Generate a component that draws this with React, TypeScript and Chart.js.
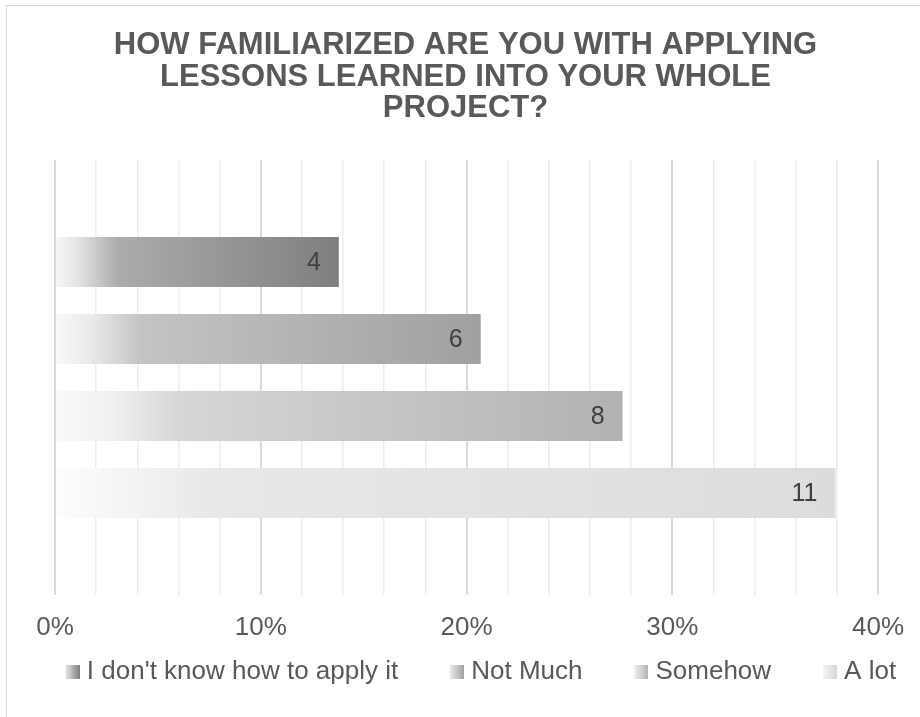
import React, { useEffect, useRef } from 'react';
import { Chart, registerables } from 'chart.js';

Chart.register(...registerables);

// ---- data ----
const TITLE_LINES = [
  'HOW FAMILIARIZED ARE YOU WITH APPLYING',
  'LESSONS LEARNED INTO YOUR WHOLE',
  'PROJECT?',
];
const CATEGORIES = [''];
const SERIES_NAMES = ["I don't know how to apply it", 'Not Much', 'Somehow', 'A lot'];
const SERIES_COUNTS = [4, 6, 8, 11];
const X_MIN = 0;
const X_MAX = 40;
const X_STEP = 2;
const X_LABEL_EVERY = 10;

// ---- styles ----
const FONT = "'Liberation Sans', Arial, Helvetica, sans-serif";
const TEXT_COLOR = '#595959';
const LABEL_COLOR = '#404040';
const SERIES_GRADIENTS: [number, string][][] = [
  [[0, '#f8f8f8'], [0.08, '#e4e4e4'], [0.22, '#acacac'], [1, '#7f7f7f']],
  [[0, '#f8f8f8'], [0.08, '#ebebeb'], [0.2, '#c4c4c4'], [1, '#a0a0a0']],
  [[0, '#fafafa'], [0.1, '#f0f0f0'], [0.22, '#d6d6d6'], [1, '#b2b2b2']],
  [[0, '#fdfdfd'], [0.1, '#f3f3f3'], [0.2, '#e8e8e8'], [1, '#dcdcdc']],
];
const LEGEND_SWATCH: [string, string][] = [
  ['#e2e2e2', '#7f7f7f'],
  ['#e8e8e8', '#a0a0a0'],
  ['#ededed', '#b2b2b2'],
  ['#f4f4f4', '#d6d6d6'],
];

const TOTAL = SERIES_COUNTS.reduce((a, b) => a + b, 0);
const SERIES_PCT = SERIES_COUNTS.map((c) => (c / TOTAL) * 100);

const LEGEND_BOX_W = 39;
const SWATCH = 14;

function makeSwatch(i: number): HTMLCanvasElement {
  const c = document.createElement('canvas');
  const w = LEGEND_BOX_W + 12;
  c.width = w;
  c.height = SWATCH;
  const g = c.getContext('2d')!;
  const grad = g.createLinearGradient(w - SWATCH, 0, w, 0);
  grad.addColorStop(0, LEGEND_SWATCH[i][0]);
  grad.addColorStop(1, LEGEND_SWATCH[i][1]);
  g.fillStyle = grad;
  g.fillRect(w - SWATCH, 0, SWATCH, SWATCH);
  return c;
}

const valueLabels = {
  id: 'valueLabels',
  afterDatasetsDraw(chart: any) {
    const ctx = chart.ctx;
    ctx.save();
    ctx.font = `25px ${FONT}`;
    ctx.fillStyle = LABEL_COLOR;
    ctx.textAlign = 'right';
    ctx.textBaseline = 'middle';
    chart.data.datasets.forEach((_ds: any, i: number) => {
      const meta = chart.getDatasetMeta(i);
      meta.data.forEach((el: any) => {
        ctx.fillText(String(SERIES_COUNTS[i]), el.x - 18, el.y + 1);
      });
    });
    ctx.restore();
  },
};

export default function App() {
  const ref = useRef<HTMLCanvasElement | null>(null);

  useEffect(() => {
    if (!ref.current) return;
    const swatches = SERIES_NAMES.map((_, i) => makeSwatch(i));

    const datasets = SERIES_NAMES.map((name, i) => ({
      label: name,
      data: [SERIES_PCT[i]],
      borderWidth: 0,
      backgroundColor: (c: any) => {
        const chart = c.chart;
        const end = SERIES_GRADIENTS[i][SERIES_GRADIENTS[i].length - 1][1];
        if (!chart.chartArea || c.raw == null || !chart.scales.x) return end;
        const xs = chart.scales.x;
        const x0 = xs.getPixelForValue(0);
        const x1 = xs.getPixelForValue(c.raw);
        const g = chart.ctx.createLinearGradient(x0, 0, Math.max(x1, x0 + 1), 0);
        SERIES_GRADIENTS[i].forEach(([o, col]) => g.addColorStop(o, col));
        return g;
      },
    }));

    const chart = new Chart(ref.current, {
      type: 'bar',
      data: { labels: CATEGORIES, datasets },
      plugins: [valueLabels],
      options: {
        animation: false,
        responsive: false,
        events: [],
        indexAxis: 'y',
        datasets: {
          bar: { categoryPercentage: 0.708, barPercentage: 0.65 },
        },
        layout: { padding: { left: 0, right: 9, top: 0, bottom: 22 } },
        scales: {
          x: {
            type: 'linear',
            position: 'bottom',
            min: X_MIN,
            max: X_MAX,
            ticks: {
              stepSize: X_STEP,
              autoSkip: false,
              maxRotation: 0,
              padding: 17,
              color: TEXT_COLOR,
              font: { size: 26, family: FONT },
              callback: (v: any) => (Number(v) % X_LABEL_EVERY === 0 ? `${v}%` : ''),
            },
            grid: {
              drawTicks: false,
              color: (c: any) => (c.tick && c.tick.value % X_LABEL_EVERY === 0 ? '#d9d9d9' : '#ececec'),
              lineWidth: (c: any) => (c.tick && c.tick.value % X_LABEL_EVERY === 0 ? 2 : 1.5),
            },
            border: { display: false },
            afterFit: (s: any) => {
              s.height = 43;
            },
          },
          y: {
            type: 'category',
            position: 'left',
            ticks: { display: false },
            grid: { display: false },
            border: { display: false },
            afterFit: (s: any) => {
              s.width = 75;
            },
          },
          y2: {
            type: 'category',
            position: 'right',
            labels: CATEGORIES,
            ticks: { display: false },
            grid: { display: false },
            border: { display: false },
            afterFit: (s: any) => {
              s.width = 73;
            },
          },
        },
        plugins: {
          tooltip: { enabled: false },
          title: {
            display: true,
            text: TITLE_LINES,
            color: TEXT_COLOR,
            font: { size: 31, weight: 'bold', family: FONT, lineHeight: 31.5 / 31 },
            padding: { top: 24, bottom: 35.5 },
          },
          legend: {
            display: true,
            position: 'bottom',
            labels: {
              usePointStyle: true,
              pointStyleWidth: LEGEND_BOX_W,
              padding: 21,
              color: TEXT_COLOR,
              font: { size: 26, family: FONT },
              generateLabels: () =>
                SERIES_NAMES.map((name, i) => ({
                  text: name,
                  fillStyle: LEGEND_SWATCH[i][1],
                  strokeStyle: LEGEND_SWATCH[i][1],
                  lineWidth: 0,
                  pointStyle: swatches[i],
                  fontColor: TEXT_COLOR,
                  hidden: false,
                  datasetIndex: i,
                })),
            },
          },
        },
      } as any,
    });

    return () => chart.destroy();
  }, []);

  return (
    <div
      style={{
        position: 'fixed',
        left: 0,
        top: 0,
        width: 920,
        height: 717,
        overflow: 'hidden',
        background: '#ffffff',
      }}
    >
      <canvas
        ref={ref}
        width={980}
        height={711}
        style={{ position: 'absolute', left: -20, top: 6, width: 980, height: 711, display: 'block' }}
      />
      <div
        style={{
          position: 'absolute',
          left: 6,
          top: 5,
          width: 1000,
          height: 800,
          border: '1px solid #d9d9d9',
          boxSizing: 'border-box',
          pointerEvents: 'none',
        }}
      />
    </div>
  );
}
